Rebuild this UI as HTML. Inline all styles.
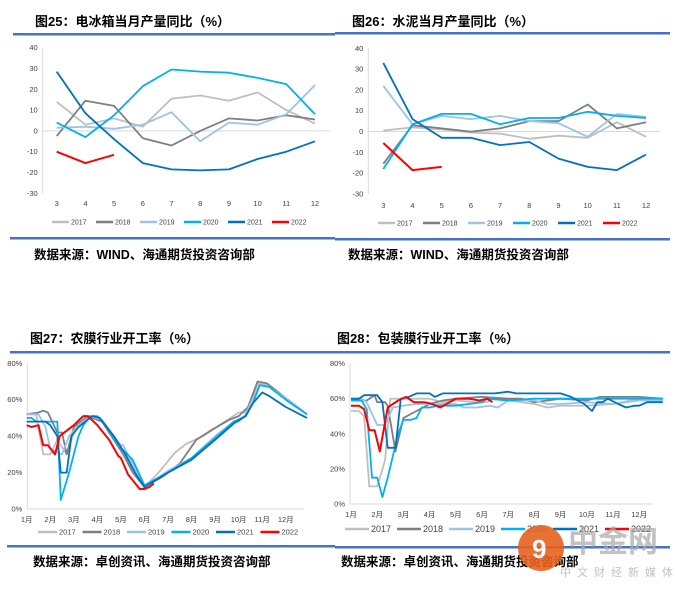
<!DOCTYPE html>
<html><head><meta charset="utf-8"><style>
html,body{margin:0;padding:0;background:#fff;}
svg{display:block;font-family:"Liberation Sans","Noto Sans CJK SC",sans-serif;}
.t{font-weight:bold;font-size:13px;fill:#000;}
.s{font-weight:bold;font-size:12.5px;fill:#000;}
.tk{font-size:7.5px;fill:#404040;}
</style></head><body>
<svg id="svg" width="675" height="590" viewBox="0 0 675 590">
<text class="t" x="35" y="26">图25：电冰箱当月产量同比（%）</text>
<text class="t" x="352" y="26">图26：水泥当月产量同比（%）</text>
<text class="t" x="30" y="343">图27：农膜行业开工率（%）</text>
<text class="t" x="337" y="343">图28：包装膜行业开工率（%）</text>
<rect x="13" y="33" width="322" height="2.5" fill="#4472c4"/>
<rect x="335" y="32" width="335" height="2.5" fill="#4472c4"/>
<rect x="10" y="351" width="325" height="2.5" fill="#4472c4"/>
<rect x="335" y="351" width="335" height="2.5" fill="#4472c4"/>
<rect x="10" y="237" width="325" height="2.5" fill="#4472c4"/>
<rect x="335" y="238" width="335" height="2.5" fill="#4472c4"/>
<rect x="7" y="545" width="328" height="2.5" fill="#4472c4"/>
<rect x="335" y="546" width="335" height="2.5" fill="#4472c4"/>
<text class="s" x="34" y="259">数据来源：WIND、海通期货投资咨询部</text>
<text class="s" x="348" y="259">数据来源：WIND、海通期货投资咨询部</text>
<text class="s" x="33" y="566">数据来源：卓创资讯、海通期货投资咨询部</text>
<text class="s" x="341" y="566">数据来源：卓创资讯、海通期货投资咨询部</text>
<g id="c1"></g><g id="c2"></g><g id="c3"></g><g id="c4"></g>
<g opacity="0.9">
<circle cx="541" cy="548" r="23" fill="#e8621f"/>
<text x="532" y="558" font-size="26" font-weight="bold" fill="#fff">9</text>
<text x="568" y="552" font-size="30" font-weight="bold" fill="#aaa" opacity="0.8">中金网</text>
<text x="560" y="576" font-size="11" fill="#bbb" letter-spacing="6">中文财经新媒体</text>
</g>
</svg>
<script>
const years = ['2017','2018','2019','2020','2021','2022'];
const colors = ['#bfbfbf','#7f7f7f','#9dc3e6','#00b0f0','#0070c0','#ff0000'];
// Chart 1: fridge output YoY, months 3..12
const months1 = [3,4,5,6,7,8,9,10,11,12];
const fridge2017 = [14,3,6,2,15.5,17,14.5,18.5,10,3.5];
const fridge2018 = [-2.5,14.5,12,-3.5,-7,0,6,5,7.5,5.5];
const fridge2019 = [1.5,2,1,3,9,-5,4,3,8,22];
const fridge2020 = [4,-3,7.5,21.5,29.5,28.5,28,25.5,22.5,8];
const fridge2021 = [28.5,8.5,-4,-15.5,-18.5,-19,-18.5,-13.5,-10,-5];
const fridge2022 = [-10,-15.5,-11.5];
// Chart 2: cement output YoY
const cement2017 = [0.5,2,1,-0.5,-1,-3.5,-2,-3,4.5,-2.5];
const cement2018 = [-15.5,3,1.5,0,1.5,5,5,13,1.5,4.5];
const cement2019 = [22,3.5,7.5,6,7.5,5,4,-2.5,8.5,7];
const cement2020 = [-18,3.5,8.5,8.5,3.5,6.5,6.5,9.5,7.5,6.5];
const cement2021 = [33,6,-3,-3,-6.5,-5,-13,-17,-18.5,-11];
const cement2022 = [-5.5,-18.5,-17];
const yTicks12 = [40,30,20,10,0,-10,-20,-30];
// Chart 3: agricultural film operating rate (x = month position, y = %)
const agriX2017 = [1,1.4,1.7,2.0,2.3,2.7,3.0,3.6,4.2,4.7,5.0,5.5,6.0,6.6,7.3,7.8,8.5,9.3,10.0,10.3,10.8,11.3,12.0,12.9];
const agriY2017 = [52,52,30,30,38,30,42,51,48,38,32,22,12,20,31,36,40,47,53,53,69,68,60,52];
const agriX2018 = [1,1.5,1.7,1.9,2.3,2.5,2.7,3.0,3.6,4.2,4.8,5.1,5.5,6.0,6.8,7.5,8.2,8.8,9.6,10.0,10.4,10.8,11.2,12.0,12.9];
const agriY2018 = [52,53,54,53,42,42,30,45,51,48,36,30,20,12,18,25,38,43,49,51,56,70,69,61,52];
const agriX2019 = [1,1.5,1.8,2.0,2.5,2.8,3.2,3.7,4.2,4.7,5.0,5.1,5.5,6.0,7.0,8.0,9.0,9.8,10.0,10.3,10.9,11.3,12.0,12.9];
const agriY2019 = [52,52,45,33,30,40,46,51,49,40,35,35,25,12,21,28,40,48,48,52,69,67,61,52];
const agriX2020 = [1,1.2,1.4,2.3,2.45,2.8,3.2,3.4,3.7,4.0,4.4,4.9,5.5,6.0,7.0,8.0,9.0,9.8,10.3,10.6,10.9,11.3,12.0,12.9];
const agriY2020 = [50,50,48,48,5,20,40,46,51,51,45,35,27,13,20,28,39,48,51,58,68,67,60,52];
const agriX2021 = [1,1.8,2.0,2.3,2.45,2.7,2.9,3.2,3.8,4.1,4.7,5.2,5.6,6.0,6.5,7.0,8.0,9.0,9.8,10.3,10.6,11.0,11.3,12.0,12.9];
const agriY2021 = [48,48,46,40,20,20,40,45,51,50,40,30,20,12,16,20,27,38,47,51,58,64,62,56,50];
const agriX2022 = [1,1.2,1.5,1.7,1.9,2.2,2.4,3.0,3.4,3.6,4.0,4.5,4.9,5.0,5.3,5.8,6.0,6.2,6.4];
const agriY2022 = [46,45,46,35,35,30,40,46,51,51,46,38,29,28,19,11,11,12,14];
// Chart 4: packaging film operating rate
const packX2017 = [1,1.3,1.5,1.7,2.0,2.3,2.5,3.0,4.0,4.5,5.0,5.7,6.2,6.4,7.0,7.5,8.0,8.5,9.0,10.0,11.0,12.0,12.9];
const packY2017 = [53,53,50,10,10,25,60,60,60,58,59,58,58,60,59,58,57,55,56,56,57,60,60];
const packX2018 = [1,1.6,1.9,2.0,2.3,2.4,2.7,3.0,3.5,4.0,4.5,5.0,6.0,7.0,7.5,8.0,8.5,9.0,10.0,10.5,12.0,12.9];
const packY2018 = [59,59,62,58,58,56,30,49,53,57,59,60,61,60,60,58,59,60,59,61,61,60];
const packX2019 = [1,1.4,1.6,2.0,2.3,2.6,3.0,3.5,5.0,5.3,5.8,6.3,6.6,7.0,8.0,8.5,9.0,10.0,11.0,12.0,12.9];
const packY2019 = [60,60,58,45,45,55,56,57,57,55,55,56,55,59,59,57,57,58,57,59,59];
const packX2020 = [1,1.4,1.6,1.8,2.0,2.2,2.4,2.8,3.0,3.3,3.5,3.7,4.0,4.3,5.0,5.5,6.0,6.2,7.0,8.0,9.0,12.9];
const packY2020 = [59,59,54,15,15,4,15,40,48,48,49,55,55,56,56,57,58,60,59,60,60,60];
const packX2021 = [1,1.3,1.5,2.0,2.2,2.4,2.7,2.9,3.2,3.5,4.0,4.2,4.5,6.5,7.0,7.3,9.0,9.4,9.9,10.2,10.4,10.6,10.8,11.2,11.5,11.8,12.0,12.3,12.9];
const packY2021 = [60,60,62,62,58,32,32,60,61,63,63,61,63,63,64,63,63,61,57,53,58,58,60,57,55,56,56,58,58];
const packX2022 = [1,1.3,1.5,1.7,1.9,2.1,2.4,2.8,3.1,3.4,3.8,4.1,4.4,5.0,5.5,5.9,6.2,6.4];
const packY2022 = [56,56,54,42,42,30,55,59,61,58,58,57,55,60,60,59,60,58];
const yTicks34 = [0,20,40,60,80];
const monthLabels = ['1月','2月','3月','4月','5月','6月','7月','8月','9月','10月','11月','12月'];

const NS='http://www.w3.org/2000/svg';
function mk(parent,tag,attrs){const e=document.createElementNS(NS,tag);for(const k in attrs)e.setAttribute(k,attrs[k]);parent.appendChild(e);return e;}

function drawChart(g, cfg){
  const ys = v => cfg.y0 + (cfg.vmax - v)/(cfg.vmax - cfg.vmin)*(cfg.y1 - cfg.y0);
  const xs = m => cfg.xA + (m - cfg.mA)*cfg.step;
  const ax = mk(g,'line',{x1:cfg.axX,y1:ys(cfg.vmax),x2:cfg.axX,y2:ys(cfg.vmin),stroke:'#d9d9d9','stroke-width':1});
  
  
  const bx = mk(g,'line',{x1:cfg.axX,y1:ys(cfg.baseV),x2:cfg.axEnd,y2:ys(cfg.baseV),stroke:'#d9d9d9','stroke-width':1});
  
  
  cfg.yTicks.forEach(v=>{
    const t=mk(g,'text',{x:cfg.axX-5,y:ys(v)+2.5,'text-anchor':'end',class:'tk'});
    t.textContent = v + cfg.ySuffix;
    
    
  });
  cfg.xLabels.forEach((l,i)=>{
    const t=mk(g,'text',{x:xs(cfg.xLabelM[i]),y:cfg.xLabelY,'text-anchor':'middle',class:'tk'});
    t.textContent=l;
    
    
  });
  cfg.series.forEach((s,i)=>{
    const pts = s.y.map((v,j)=>xs(s.x[j]).toFixed(1)+','+ys(v).toFixed(1)).join(' ');
    const p=mk(g,'polyline',{points:pts,fill:'none',stroke:colors[i],'stroke-width':i==5?2:1.8,'stroke-linejoin':'round'});
    
    
    const lx = cfg.legX + i*cfg.legStep;
    const l=mk(g,'line',{x1:lx,y1:cfg.legY,x2:lx+cfg.legLen,y2:cfg.legY,stroke:colors[i],'stroke-width':2.5});
    
    
    const t=mk(g,'text',{x:lx+cfg.legLen+2,y:cfg.legY+cfg.legFs*0.36,'font-size':cfg.legFs,fill:'#404040'});
    t.textContent=years[i];
    
    
  });
}
const m3 = months1.slice(0,3);
drawChart(document.getElementById('c1'),{y0:47.7,y1:193.3,vmax:40,vmin:-30,baseV:0,axX:42.7,axEnd:330,xA:56.7,mA:3,step:28.7,
  yTicks:yTicks12,ySuffix:'',xLabels:months1.map(String),xLabelM:months1,xLabelY:206,
  legX:52,legStep:44,legLen:17,legY:222,legFs:7,
  series:[{x:months1,y:fridge2017},{x:months1,y:fridge2018},{x:months1,y:fridge2019},{x:months1,y:fridge2020},{x:months1,y:fridge2021},{x:m3,y:fridge2022}]});
drawChart(document.getElementById('c2'),{y0:48.3,y1:194,vmax:40,vmin:-30,baseV:0,axX:368.3,axEnd:660,xA:383.3,mA:3,step:29.2,
  yTicks:yTicks12,ySuffix:'',xLabels:months1.map(String),xLabelM:months1,xLabelY:208,
  legX:378,legStep:45,legLen:17,legY:223,legFs:7,
  series:[{x:months1,y:cement2017},{x:months1,y:cement2018},{x:months1,y:cement2019},{x:months1,y:cement2020},{x:months1,y:cement2021},{x:m3,y:cement2022}]});
drawChart(document.getElementById('c3'),{y0:363.3,y1:509,vmax:80,vmin:0,baseV:0,axX:27.3,axEnd:304,xA:26.7,mA:1,step:23.55,
  yTicks:yTicks34,ySuffix:'%',xLabels:monthLabels,xLabelM:[1,2,3,4,5,6,7,8,9,10,11,12],xLabelY:522,
  legX:38,legStep:44.5,legLen:19,legY:532,legFs:7.5,
  series:[{x:agriX2017,y:agriY2017},{x:agriX2018,y:agriY2018},{x:agriX2019,y:agriY2019},{x:agriX2020,y:agriY2020},{x:agriX2021,y:agriY2021},{x:agriX2022,y:agriY2022}]});
drawChart(document.getElementById('c4'),{y0:363.6,y1:504,vmax:80,vmin:0,baseV:0,axX:350,axEnd:653,xA:351,mA:1,step:26.2,
  yTicks:yTicks34,ySuffix:'%',xLabels:monthLabels,xLabelM:[1,2,3,4,5,6,7,8,9,10,11,12],xLabelY:517,
  legX:345,legStep:52,legLen:24,legY:529,legFs:9,
  series:[{x:packX2017,y:packY2017},{x:packX2018,y:packY2018},{x:packX2019,y:packY2019},{x:packX2020,y:packY2020},{x:packX2021,y:packY2021},{x:packX2022,y:packY2022}]});
</script>
</body></html>
